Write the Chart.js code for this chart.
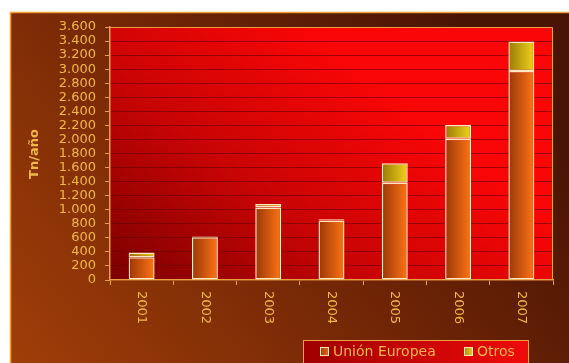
<!DOCTYPE html>
<html>
<head>
<meta charset="utf-8">
<script src="https://cdn.jsdelivr.net/npm/chart.js@4/dist/chart.umd.min.js"></script>
<style>
  html, body { margin: 0; padding: 0; background: #ffffff; }
  #wrap { width: 569px; height: 363px; position: relative; }
</style>
</head>
<body>
<div id="wrap"><canvas id="c" width="569" height="363"></canvas></div>
<script>
// ---- Data ----
const years = ['2001', '2002', '2003', '2004', '2005', '2006', '2007'];
const unionEuropea = [325, 610, 1030, 845, 1385, 2010, 2975];
const otros = [65, 10, 50, 20, 275, 195, 420];
const seriesNames = ['Unión Europea', 'Otros'];
const yAxisTitle = 'Tn/año';
const yMin = 0, yMax = 3600, yStep = 200;

const TXT = '#f0b848';
const AXIS = '#e8a040';
const FONT = '"DejaVu Sans", Verdana, sans-serif';

function fmt(v) { return String(v).replace(/\B(?=(\d{3})+(?!\d))/g, '.'); }

function barGradient(ctx, c0, c1) {
  const chart = ctx.chart;
  if (!chart.chartArea || !chart.scales.x) return c1;
  const xs = chart.scales.x;
  const x = xs.getPixelForValue(ctx.dataIndex);
  const w = (xs.width / years.length) * 0.41;
  const g = chart.ctx.createLinearGradient(x - w / 2, 0, x + w / 2, 0);
  g.addColorStop(0, c0);
  g.addColorStop(1, c1);
  return g;
}

const framePlugin = {
  id: 'frame',
  beforeDraw(chart) {
    const ctx = chart.ctx;
    const W = chart.width, H = chart.height;
    ctx.save();
    ctx.fillStyle = '#ffffff';
    ctx.fillRect(0, 0, W, H);
    const g = ctx.createLinearGradient(10, H, W * 0.8, 12);
    g.addColorStop(0, '#a03e08');
    g.addColorStop(0.45, '#7a2a06');
    g.addColorStop(1, '#4a1404');
    ctx.fillStyle = g;
    ctx.fillRect(10, 12, W - 10, H - 12);
    ctx.strokeStyle = '#f0a030';
    ctx.lineWidth = 1.5;
    ctx.beginPath();
    ctx.moveTo(10.5, H);
    ctx.lineTo(10.5, 12.5);
    ctx.lineTo(W, 12.5);
    ctx.stroke();
    // plot area background
    const a = chart.chartArea;
    const pg = ctx.createLinearGradient(a.left, a.bottom, a.left + (a.right - a.left) * 0.45, a.top);
    pg.addColorStop(0, '#7c0000');
    pg.addColorStop(0.5, '#c80404');
    pg.addColorStop(1, '#fa0606');
    ctx.fillStyle = pg;
    ctx.fillRect(a.left, a.top, a.right - a.left, a.bottom - a.top);
    ctx.restore();
  },
  afterDraw(chart) {
    const ctx = chart.ctx;
    const a = chart.chartArea;
    ctx.save();
    // plot border (top/right)
    ctx.strokeStyle = AXIS;
    ctx.lineWidth = 1;
    ctx.beginPath();
    ctx.moveTo(a.left, a.top + 0.5);
    ctx.lineTo(a.right - 0.5, a.top + 0.5);
    ctx.lineTo(a.right - 0.5, a.bottom);
    ctx.stroke();
    // y-axis title
    ctx.fillStyle = TXT;
    ctx.font = 'bold 13px ' + FONT;
    ctx.textAlign = 'center';
    ctx.textBaseline = 'middle';
    ctx.translate(35, 154);
    ctx.rotate(-Math.PI / 2);
    ctx.fillText(yAxisTitle, 0, 0);
    ctx.restore();

    // x labels rotated clockwise
    const xs = chart.scales.x;
    ctx.save();
    ctx.fillStyle = TXT;
    ctx.font = '13px ' + FONT;
    ctx.textAlign = 'left';
    ctx.textBaseline = 'middle';
    years.forEach((y, i) => {
      const x = xs.getPixelForValue(i);
      ctx.save();
      ctx.translate(x, a.bottom + 11);
      ctx.rotate(Math.PI / 2);
      ctx.fillText(y, 0, 0);
      ctx.restore();
    });
    ctx.restore();

    // legend
    ctx.save();
    const lx = 303, ly = 340, lw = 226, lh = 26;
    const lg = ctx.createLinearGradient(lx, 0, lx + lw, 0);
    lg.addColorStop(0, '#a00000');
    lg.addColorStop(1, '#f00a0a');
    ctx.fillStyle = lg;
    ctx.fillRect(lx, ly, lw, lh);
    ctx.strokeStyle = AXIS;
    ctx.lineWidth = 1;
    ctx.strokeRect(lx + 0.5, ly + 0.5, lw - 1, lh);
    const items = [
      { x: 320, c0: '#a04010', c1: '#e86818', label: seriesNames[0] },
      { x: 464, c0: '#b09010', c1: '#e8d020', label: seriesNames[1] }
    ];
    ctx.font = '14px ' + FONT;
    ctx.textBaseline = 'middle';
    ctx.textAlign = 'left';
    items.forEach(it => {
      const sg = ctx.createLinearGradient(it.x, 0, it.x + 9, 0);
      sg.addColorStop(0, it.c0);
      sg.addColorStop(1, it.c1);
      ctx.fillStyle = sg;
      ctx.fillRect(it.x, 347, 9, 9);
      ctx.strokeStyle = '#ffe0b0';
      ctx.strokeRect(it.x + 0.5, 347.5, 8, 8);
      ctx.fillStyle = TXT;
      ctx.fillText(it.label, it.x + 13, 352);
    });
    ctx.restore();
  }
};

new Chart(document.getElementById('c'), {
  type: 'bar',
  data: {
    labels: years,
    datasets: [
      {
        label: seriesNames[0],
        data: unionEuropea,
        backgroundColor: (ctx) => barGradient(ctx, '#9a3808', '#ff7414'),
        borderColor: '#ffe8c0',
        borderWidth: 1.5,
        borderSkipped: false,
        barPercentage: 0.41,
        categoryPercentage: 1
      },
      {
        label: seriesNames[1],
        data: otros,
        backgroundColor: (ctx) => barGradient(ctx, '#9a7a08', '#f0d418'),
        borderColor: '#ffe8c0',
        borderWidth: 1.5,
        borderSkipped: false,
        barPercentage: 0.41,
        categoryPercentage: 1
      }
    ]
  },
  options: {
    responsive: false,
    animation: false,
    layout: { padding: { left: 10, top: 27, right: 16, bottom: 0 } },
    plugins: { legend: { display: false }, tooltip: { enabled: false } },
    scales: {
      x: {
        stacked: true,
        offset: true,
        grid: { offset: true, drawOnChartArea: false, tickLength: 5, tickColor: AXIS },
        border: { color: AXIS, width: 1.5 },
        ticks: { display: false },
        afterFit(s) { s.height = 83; }
      },
      y: {
        stacked: true,
        min: yMin,
        max: yMax,
        grid: { color: 'rgba(100,0,0,0.6)', tickLength: 5, tickColor: AXIS, lineWidth: 1 },
        border: { color: AXIS, width: 1.5 },
        ticks: {
          stepSize: yStep,
          autoSkip: false,
          padding: 9,
          color: TXT,
          font: { family: FONT, size: 13, lineHeight: 1 },
          callback: (v) => fmt(v)
        },
        afterFit(s) { s.width = 100; }
      }
    }
  },
  plugins: [framePlugin]
});
</script>
</body>
</html>
